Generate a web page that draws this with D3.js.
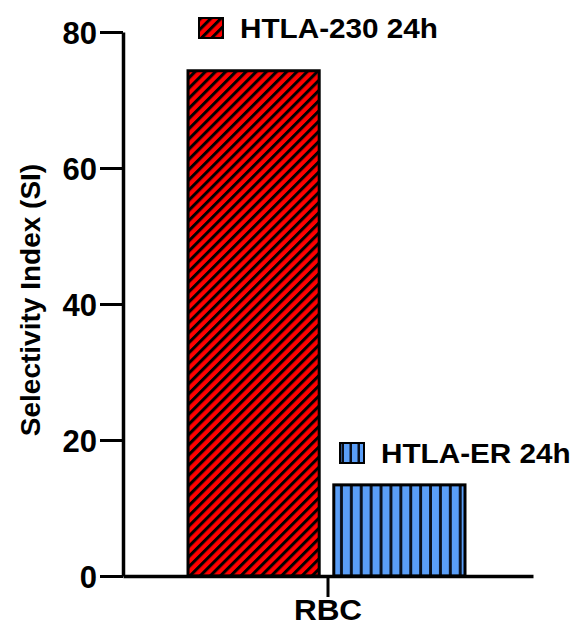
<!DOCTYPE html>
<html>
<head>
<meta charset="utf-8">
<script src="https://cdn.jsdelivr.net/npm/d3@7"></script>
<style>
  html, body { margin: 0; padding: 0; background: #fff; }
  svg { display: block; font-family: Arial, "Liberation Sans", sans-serif; }
</style>
</head>
<body>
<svg id="chart" width="576" height="628"></svg>
<script>
// Selectivity index by cell line, RBC reference
const categories = ["RBC"];
const seriesNames = ["HTLA-230 24h", "HTLA-ER 24h"];
const seriesValues = [74.3, 13.4];
const yTicks = [0, 20, 40, 60, 80];
const yLabel = "Selectivity Index (SI)";

const svg = d3.select("#chart");
const margin = { left: 123, right: 43, top: 32, bottom: 52 };
const W = 576, H = 628;
const FONT = "Arial, 'Liberation Sans', sans-serif";

const y = d3.scaleLinear().domain([0, 80]).range([H - margin.bottom, margin.top]);
const x = d3.scaleBand().domain(categories).range([margin.left, W - margin.right]);
const xs = d3.scaleBand().domain(seriesNames).range([188, 465]).paddingInner(0.1);

// Hatch patterns
const defs = svg.append("defs");
const diag = defs.append("pattern")
  .attr("id", "hatchRed").attr("patternUnits", "userSpaceOnUse")
  .attr("width", 7.2).attr("height", 7.2)
  .attr("patternTransform", "rotate(-45)");
diag.append("rect").attr("width", 7.2).attr("height", 7.2).attr("fill", "#ff0000");
diag.append("rect").attr("width", 7.2).attr("height", 3).attr("fill", "#000");

const vert = defs.append("pattern")
  .attr("id", "hatchBlue").attr("patternUnits", "userSpaceOnUse")
  .attr("x", 333).attr("width", 9.9).attr("height", 10);
vert.append("rect").attr("width", 9.9).attr("height", 10).attr("fill", "#5a9ef7");
vert.append("rect").attr("x", 7).attr("width", 2.9).attr("height", 10).attr("fill", "#0a0f1a");

const vertSmall = defs.append("pattern")
  .attr("id", "hatchBlueKey").attr("patternUnits", "userSpaceOnUse")
  .attr("x", 340).attr("width", 8).attr("height", 10);
vertSmall.append("rect").attr("width", 8).attr("height", 10).attr("fill", "#5a9ef7");
vertSmall.append("rect").attr("x", 5.5).attr("width", 2.5).attr("height", 10).attr("fill", "#0a0f1a");

const fills = ["url(#hatchRed)", "url(#hatchBlue)"];
const keyFills = ["url(#hatchRed)", "url(#hatchBlueKey)"];

// Bars
svg.append("g").selectAll("rect")
  .data(seriesValues)
  .join("rect")
  .attr("x", (d, i) => xs(seriesNames[i]))
  .attr("y", d => y(d))
  .attr("width", xs.bandwidth())
  .attr("height", d => y(0) - y(d))
  .attr("fill", (d, i) => fills[i])
  .attr("stroke", "#000")
  .attr("stroke-width", 3);

// Y axis
const yAxis = svg.append("g").attr("transform", `translate(${margin.left},0)`);
yAxis.call(d3.axisLeft(y).tickValues(d3.range(0, 81, 2)).tickFormat("").tickSize(12).tickSizeOuter(0));
yAxis.call(d3.axisLeft(y).tickValues(yTicks).tickSize(23).tickSizeOuter(0).tickPadding(3));
yAxis.selectAll("line").attr("stroke", "#000").attr("stroke-width", 3);
yAxis.selectAll(".domain").attr("stroke", "#000").attr("stroke-width", 3.5);
yAxis.selectAll("text").attr("font-size", 31).attr("font-weight", "bold").attr("fill", "#000")
  .attr("font-family", FONT).attr("dy", "0.36em");

// X axis
const xAxis = svg.append("g").attr("transform", `translate(0,${y(0)})`);
xAxis.call(d3.axisBottom(x).tickSize(21).tickSizeOuter(0).tickPadding(2));
xAxis.selectAll("line").attr("stroke", "#000").attr("stroke-width", 3);
xAxis.selectAll(".domain").attr("stroke", "#000").attr("stroke-width", 3.5);
xAxis.selectAll("text").attr("font-size", 30).attr("font-weight", "bold").attr("fill", "#000")
  .attr("font-family", FONT).attr("transform", "scale(1.05,1)");

// Y label
svg.append("text")
  .attr("transform", `translate(40,300) rotate(-90)`)
  .attr("text-anchor", "middle")
  .attr("font-size", 28).attr("font-weight", "bold")
  .text(yLabel);

// Legend entries
const legendPos = [{ x: 199, y: 18 }, { x: 340, y: 443 }];
const legend = svg.append("g").selectAll("g")
  .data(seriesNames)
  .join("g")
  .attr("transform", (d, i) => `translate(${legendPos[i].x},${legendPos[i].y})`);
legend.append("rect")
  .attr("width", 24).attr("height", 20)
  .attr("fill", (d, i) => keyFills[i])
  .attr("stroke", "#000").attr("stroke-width", 2);
legend.append("text")
  .attr("transform", "translate(41,20) scale(1.1,1)")
  .attr("font-size", 27).attr("font-weight", "bold")
  .text(d => d);
</script>
</body>
</html>
